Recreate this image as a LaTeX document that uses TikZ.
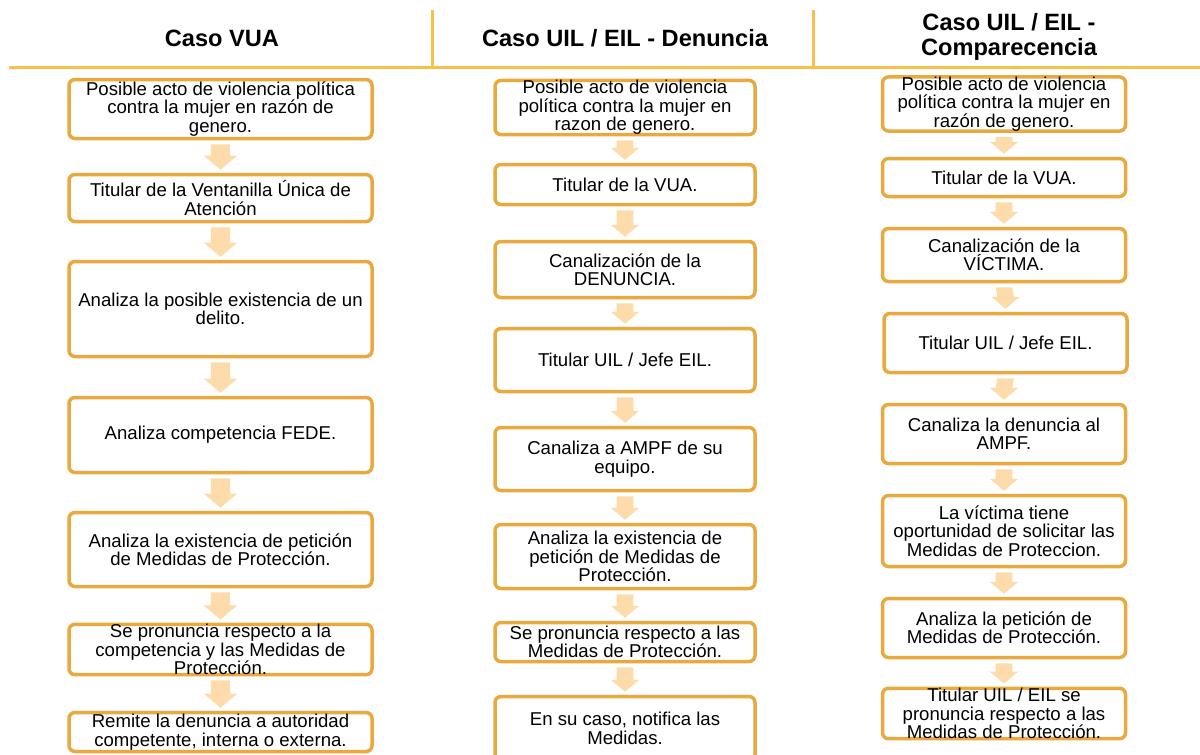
\documentclass[tikz,border=0pt]{standalone}
\usepackage{fontspec}
\setmainfont{Liberation Sans}
\usetikzlibrary{calc}

\definecolor{borde}{HTML}{E9A93F}
\definecolor{linea}{HTML}{FBBF4A}
\definecolor{relleno}{HTML}{FDDBAA}

% block arrow from the bottom of one box to the top of the next
\newcommand{\flecha}[3][1]{%
  \fill[flecha] ($(#2.south)+(-9*#1,4)$) -- ($(#2.south)+(9*#1,4)$)
    -- ($(#3.north)+(9*#1,-3-13*#1)$) -- ($(#3.north)+(15.5*#1,-3-13*#1)$)
    -- ($(#3.north)+(0,-3)$) -- ($(#3.north)+(-15.5*#1,-3-13*#1)$)
    -- ($(#3.north)+(-9*#1,-3-13*#1)$) -- cycle;}

\begin{document}
\begin{tikzpicture}[x=0.5pt,y=-0.5pt,
  caja/.style={draw=borde, line width=1.75pt, rounded corners=3pt, fill=white,
    inner sep=0pt, align=center, font=\fontsize{9.3}{9.2}\selectfont},
  col1/.style={caja, minimum width=151.5pt},
  col2/.style={caja, minimum width=130pt},
  col3/.style={caja, minimum width=121.5pt},
  titulo/.style={font=\fontsize{11.8}{12.5}\selectfont\bfseries, align=center},
  flecha/.style={fill=relleno}]
		\useasboundingbox (0,0) rectangle (1200,755);

		% header
		\draw[linea, line width=1.5pt] (9,67) -- (1200,67);
		\draw[linea, line width=1.5pt] (432,10) -- (432,67);
		\draw[linea, line width=1.5pt] (813,10) -- (813,67);
		\node[titulo] (tVUA) at (222,38) {Caso VUA};
		\node[titulo] (tDen) at (625,38) {Caso UIL / EIL - Denuncia};
		\node[titulo] (tComp) at (1009,37) {Caso UIL / EIL -\\Comparecencia};

		% caso VUA
		\node[col1, minimum height=29.5pt] (v1) at (220.5,109) {Posible acto de violencia política\\contra la mujer en razón de\\genero.};
		\node[col1, minimum height=23.5pt] (v2) at (220.5,198) {Titular de la Ventanilla Única de\\Atención};
		\node[col1, minimum height=47.5pt] (v3) at (220.5,309) {Analiza la posible existencia de un\\delito.};
		\node[col1, minimum height=37.5pt] (v4) at (220.5,435) {Analiza competencia FEDE.};
		\node[col1, minimum height=37pt] (v5) at (220.5,549.5) {Analiza la existencia de petición\\de Medidas de Protección.};
		\node[col1, minimum height=23pt] (v6) at (220.5,649.5) {Se pronuncia respecto a la\\competencia y las Medidas de\\Protección.};
		\node[col1, minimum height=19.5pt] (v7) at (220.5,732) {Remite la denuncia a autoridad\\competente, interna o externa.};

		% caso UIL / EIL - denuncia
		\node[col2, minimum height=26pt] (d1) at (625,107.5) {Posible acto de violencia\\política contra la mujer en\\razon de genero.};
		\node[col2, minimum height=20pt] (d2) at (625,184.5) {Titular de la VUA.};
		\node[col2, minimum height=28pt] (d3) at (625,269.5) {Canalización de la\\DENUNCIA.};
		\node[col2, minimum height=31.5pt] (d4) at (625,360) {Titular UIL / Jefe EIL.};
		\node[col2, minimum height=31.5pt] (d5) at (625,459) {Canaliza a AMPF de su\\equipo.};
		\node[col2, minimum height=32pt] (d6) at (625,556.5) {Analiza la existencia de\\petición de Medidas de\\Protección.};
		\node[col2, minimum height=19.5pt] (d7) at (625,642) {Se pronuncia respecto a las\\Medidas de Protección.};
		\node[col2, minimum height=32pt] (d8) at (625,728.5) {En su caso, notifica las\\Medidas.};

		% caso UIL / EIL - comparecencia
		\node[col3, minimum height=24.5pt] (c1) at (1004,104) {Posible acto de violencia\\política contra la mujer en\\razón de genero.};
		\node[col3, minimum height=19pt] (c2) at (1004,177.5) {Titular de la VUA.};
		\node[col3, minimum height=26.5pt] (c3) at (1004,255) {Canalización de la\\VÍCTIMA.};
		\node[col3, minimum height=29.5pt] (c4) at (1005.5,343) {Titular UIL / Jefe EIL.};
		\node[col3, minimum height=29.5pt] (c5) at (1004,434) {Canaliza la denuncia al\\AMPF.};
		\node[col3, minimum height=35.5pt] (c6) at (1004,531) {La víctima tiene\\oportunidad de solicitar las\\Medidas de Proteccion.};
		\node[col3, minimum height=29.5pt] (c7) at (1004,628) {Analiza la petición de\\Medidas de Protección.};
		\node[col3, minimum height=24pt] (c8) at (1004,713.5) {Titular UIL / EIL se\\pronuncia respecto a las\\Medidas de Protección.};

		% arrows
		\foreach \a/\b in {v1/v2,v2/v3,v3/v4,v4/v5,v5/v6,v6/v7}
			\flecha[1.08]{\a}{\b};
		\foreach \a/\b in {d1/d2,d2/d3,d3/d4,d4/d5,d5/d6,d6/d7,d7/d8,
		                   c1/c2,c2/c3,c3/c4,c4/c5,c5/c6,c6/c7,c7/c8}
			\flecha[0.92]{\a}{\b};
\end{tikzpicture}
\end{document}
